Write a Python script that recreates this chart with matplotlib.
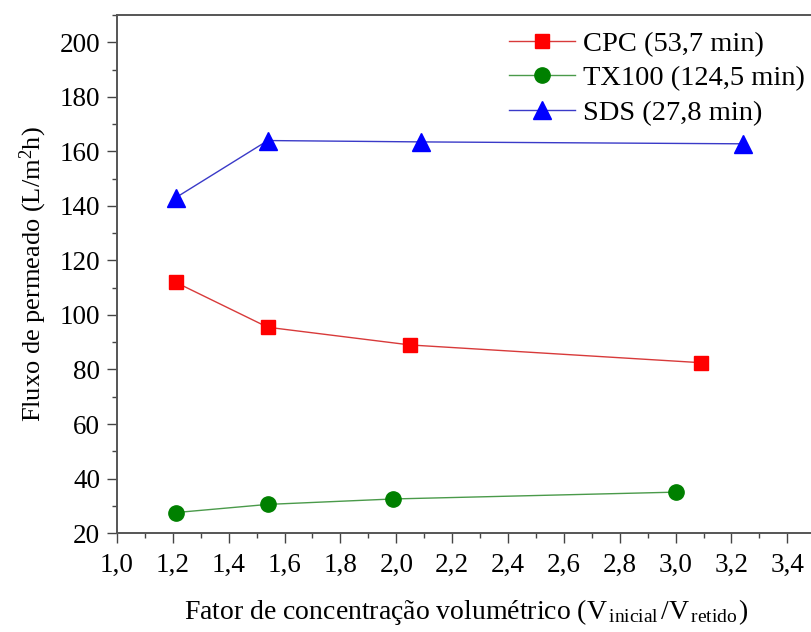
import matplotlib
matplotlib.use("Agg")
import matplotlib.pyplot as plt
from matplotlib.ticker import MultipleLocator, FuncFormatter

plt.rcParams['font.family'] = ['Liberation Serif', 'DejaVu Serif']
plt.rcParams['mathtext.fontset'] = 'custom'
plt.rcParams['mathtext.rm'] = 'Liberation Serif'
plt.rcParams['mathtext.it'] = 'Liberation Serif:italic'

cpc_x = [1.21, 1.54, 2.05, 3.09]
cpc_y = [112, 95.5, 89, 82.5]
tx_x = [1.21, 1.54, 1.99, 3.00]
tx_y = [27.5, 30.5, 32.5, 35]
sds_x = [1.21, 1.54, 2.09, 3.24]
sds_y = [143, 164, 163.5, 162.8]
labels = ["CPC (53,7 min)", "TX100 (124,5 min)", "SDS (27,8 min)"]

fig = plt.figure(figsize=(8.12, 6.32), dpi=100)
ax = fig.add_axes([0.144, 0.1566, 0.86, 0.8194])

ax.plot(cpc_x, cpc_y, color='#d83a3a', lw=1, marker='s', ms=10.5, mfc='red', mec='red', label=labels[0])
ax.plot(tx_x, tx_y, color='#4a9a4a', lw=1, marker='o', ms=11, mfc='green', mec='green', label=labels[1])
ax.plot(sds_x, sds_y, color='#3a3ac8', lw=1, marker='^', ms=13, mfc='blue', mec='blue', label=labels[2])

ax.set_xlim(1.0, 3.5)
ax.set_ylim(20, 210)
ax.xaxis.set_major_locator(MultipleLocator(0.2))
ax.xaxis.set_minor_locator(MultipleLocator(0.1))
ax.yaxis.set_major_locator(MultipleLocator(20))
ax.yaxis.set_minor_locator(MultipleLocator(10))
ax.xaxis.set_major_formatter(FuncFormatter(lambda v, p: f"{v:.1f}".replace('.', ',')))
ax.yaxis.set_major_formatter(FuncFormatter(lambda v, p: f"{int(round(v))}" if v <= 200 else ""))

ax.tick_params(which='both', direction='out', top=False, right=False, labelsize=19.5, colors='#444444', labelcolor='black')
ax.tick_params(which='major', length=7, width=1)
ax.tick_params(axis='x', which='major', pad=7)
ax.tick_params(axis='y', which='major', pad=5)
ax.tick_params(which='minor', length=3.6, width=1)
for s in ax.spines.values():
    s.set_color('#555555')
    s.set_linewidth(1.4)

ax.set_xlabel("Fator de concentração volumétrico (V$_{\\,\\mathrm{inicial}\\,}$/V$_{\\,\\mathrm{retido}\\,}$)",
              fontsize=20, labelpad=14)
ax.set_ylabel("Fluxo de permeado (L/m$^2$h)", fontsize=19, labelpad=8)

ax.legend(loc='upper right', bbox_to_anchor=(1.008, 1.0), frameon=False, fontsize=20.5,
          handlelength=2.3, handletextpad=0.3, labelspacing=0.3, borderaxespad=0.15)

fig.savefig("out.png", dpi=100)
